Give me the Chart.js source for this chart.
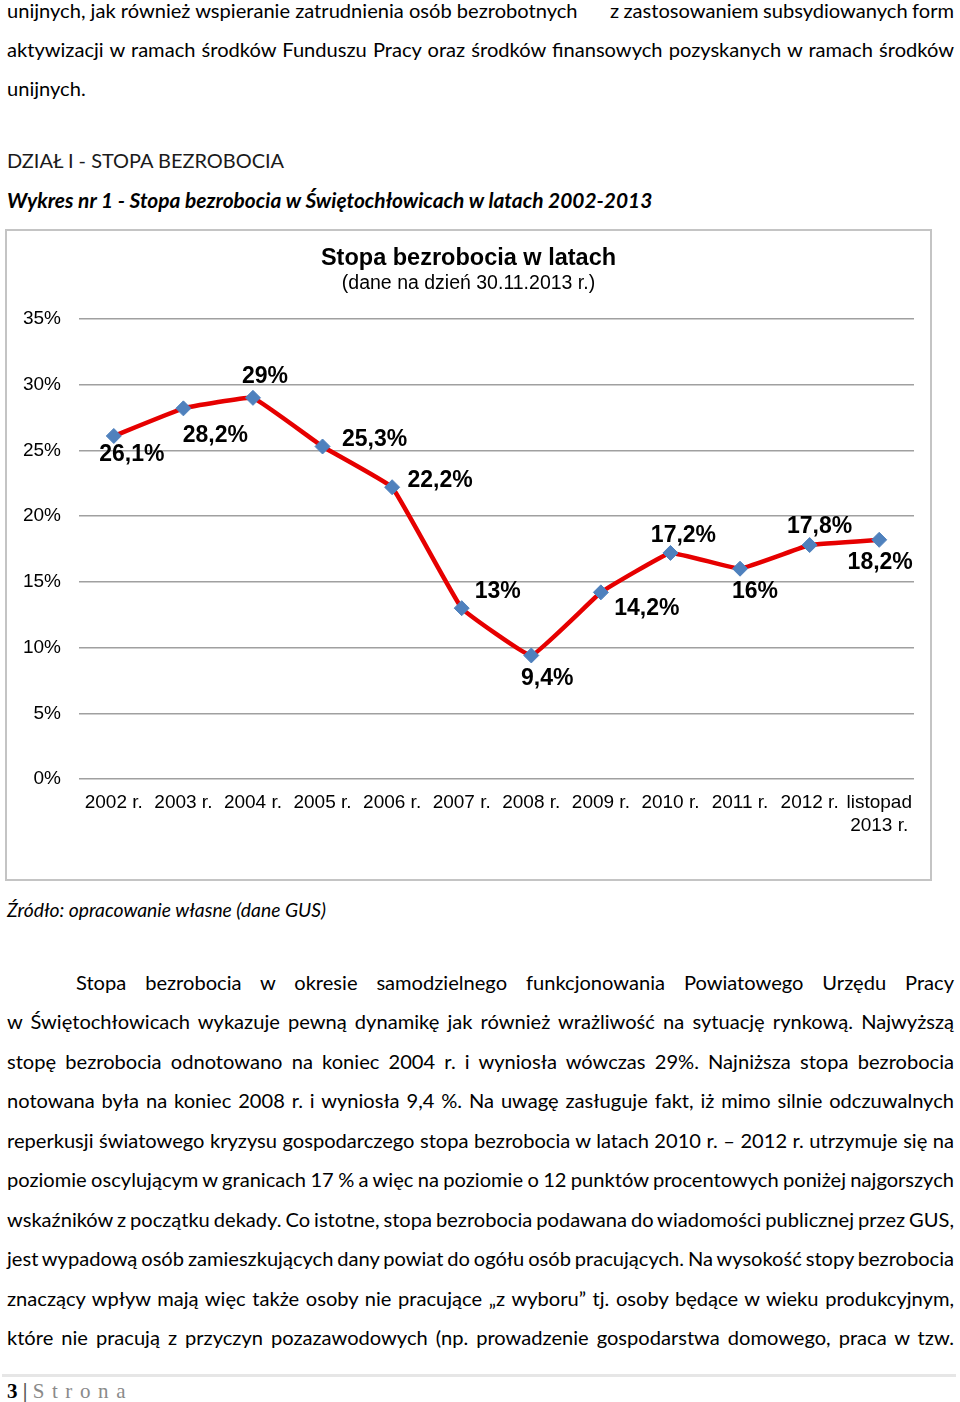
<!DOCTYPE html>
<html><head><meta charset="utf-8">
<script src="https://cdn.jsdelivr.net/npm/chart.js@4.4.1/dist/chart.umd.min.js"></script>
<style>
html,body{margin:0;padding:0;background:#fff;}
body{width:960px;height:1402px;position:relative;overflow:hidden;font-family:Lato,"Open Sans",sans-serif;color:#000;}
.t{position:absolute;white-space:nowrap;line-height:1;}
#frame{position:absolute;left:5px;top:229px;width:927px;height:652px;box-sizing:border-box;border:2px solid #c4c4c4;}
#c{position:absolute;left:7px;top:232px;}
#rule{position:absolute;left:2px;top:1374px;width:954px;height:3px;background:#e6e6e6;}
</style></head>
<body>
<div class="t" data-x="7" data-b="18" data-w="571" data-cal="1">unijnych, jak również wspieranie zatrudnienia osób bezrobotnych</div>
<div class="t" data-x="610" data-b="18" data-w="344" data-m="j">z zastosowaniem subsydiowanych form</div>
<div class="t" data-x="7" data-b="57" data-w="947" data-m="j">aktywizacji w ramach środków Funduszu Pracy oraz środków finansowych pozyskanych w ramach środków</div>
<div class="t" data-x="7" data-b="96">unijnych.</div>
<div class="t" data-x="7" data-b="169" data-w="277" data-m="fit" style="color:#1a1a1a">DZIAŁ I - STOPA BEZROBOCIA</div>
<div class="t" data-x="7" data-b="209" data-w="645" data-m="fit" style="font-weight:bold;font-style:italic">Wykres nr 1 - Stopa bezrobocia w Świętochłowicach w latach 2002-2013</div>
<div id="frame"></div>
<canvas id="c" width="923" height="647"></canvas>
<div class="t" data-x="7" data-b="917" data-w="319" data-m="fit" style="font-style:italic">Źródło: opracowanie własne (dane GUS)</div>
<div class="t" data-x="76" data-b="990" data-w="878" data-m="j">Stopa bezrobocia w okresie samodzielnego funkcjonowania Powiatowego Urzędu Pracy</div>
<div class="t" data-x="7" data-b="1029.5" data-w="947" data-m="j">w Świętochłowicach wykazuje pewną dynamikę jak również wrażliwość na sytuację rynkową. Najwyższą</div>
<div class="t" data-x="7" data-b="1069" data-w="947" data-m="j">stopę bezrobocia odnotowano na koniec 2004 r. i wyniosła wówczas 29%. Najniższa stopa bezrobocia</div>
<div class="t" data-x="7" data-b="1108.5" data-w="947" data-m="j">notowana była na koniec 2008 r. i wyniosła 9,4 %. Na uwagę zasługuje fakt, iż mimo silnie odczuwalnych</div>
<div class="t" data-x="7" data-b="1148" data-w="947" data-m="j">reperkusji światowego kryzysu gospodarczego stopa bezrobocia w latach 2010 r. – 2012 r. utrzymuje się na</div>
<div class="t" data-x="7" data-b="1187.5" data-w="947" data-m="j">poziomie oscylującym w granicach 17 % a więc na poziomie o 12 punktów procentowych poniżej najgorszych</div>
<div class="t" data-x="7" data-b="1227" data-w="947" data-m="j">wskaźników z początku dekady. Co istotne, stopa bezrobocia podawana do wiadomości publicznej przez GUS,</div>
<div class="t" data-x="7" data-b="1266.5" data-w="947" data-m="j">jest wypadową osób zamieszkujących dany powiat do ogółu osób pracujących. Na wysokość stopy bezrobocia</div>
<div class="t" data-x="7" data-b="1306" data-w="947" data-m="j">znaczący wpływ mają więc także osoby nie pracujące „z wyboru” tj. osoby będące w wieku produkcyjnym,</div>
<div class="t" data-x="7" data-b="1345.5" data-w="947" data-m="j">które nie pracują z przyczyn pozazawodowych (np. prowadzenie gospodarstwa domowego, praca w tzw.</div>
<div id="rule"></div>
<div class="t" data-x="7" data-b="1398" data-f="21" style="font-family:'Liberation Serif',serif"><span style="font-weight:bold">3</span><span style="font-weight:bold;color:#555"> | </span><span style="color:#8a8a8a;letter-spacing:7.6px">Strona</span></div>
<script>
// ---- data ----
const categories = ['2002 r.', '2003 r.', '2004 r.', '2005 r.', '2006 r.', '2007 r.', '2008 r.', '2009 r.', '2010 r.', '2011 r.', '2012 r.', ['listopad', '2013 r.']];
const unemploymentRate = [26.1, 28.2, 29, 25.3, 22.2, 13, 9.4, 14.2, 17.2, 16, 17.8, 18.2];
const yAxisMin = 0;
const yAxisMax = 35;
const yAxisStep = 5;
const chartTitle = 'Stopa bezrobocia w latach';
const chartSubtitle = '(dane na dzień 30.11.2013 r.)';
// label placement (pixel offsets from each point, styling only)
const labelDX = [18, 32, 12, 52, 48, 36, 16, 46, 13, 15, 10, 1];
const labelDY = [19, 27, -21, -7, -7, -16, 23, 16, -17, 23, -18, 23];

function layoutText(){
  const cv = document.createElement('canvas').getContext('2d');
  const els = [...document.querySelectorAll('.t')];
  const cal = document.querySelector('[data-cal]');
  const base = 20;
  cal.style.fontSize = base + 'px';
  const r = parseFloat(cal.dataset.w) / cal.getBoundingClientRect().width;
  const bodySize = base * r;
  els.forEach(el => {
    const mode = el.dataset.m;
    let f = el.dataset.f ? parseFloat(el.dataset.f) : bodySize;
    el.style.fontSize = f + 'px';
    const w = parseFloat(el.dataset.w);
    if (mode === 'fit') {
      const nat = el.getBoundingClientRect().width;
      f = f * w / nat; el.style.fontSize = f + 'px';
    } else if (mode === 'j') {
      const nat = el.getBoundingClientRect().width;
      const n = (el.textContent.match(/ /g) || []).length;
      if (n) el.style.wordSpacing = ((w - nat) / n) + 'px';
    }
    const st = getComputedStyle(el);
    cv.font = st.fontStyle + ' ' + st.fontWeight + ' ' + f + 'px ' + st.fontFamily;
    const m = cv.measureText('Hg');
    const asc = m.fontBoundingBoxAscent, desc = m.fontBoundingBoxDescent;
    const top = parseFloat(el.dataset.b) - ((f - (asc + desc)) / 2 + asc);
    el.style.top = top + 'px';
    el.style.left = el.dataset.x + 'px';
  });
}

const fmt = v => String(v).replace('.', ',') + '%';
const valueLabels = {
  id: 'valueLabels',
  afterDatasetsDraw(chart){
    const ctx = chart.ctx;
    const meta = chart.getDatasetMeta(0);
    ctx.save();
    ctx.font = 'bold 23px "Liberation Sans", Arial, sans-serif';
    ctx.fillStyle = '#000';
    ctx.textAlign = 'center';
    ctx.textBaseline = 'middle';
    meta.data.forEach((p, i) => {
      ctx.fillText(fmt(unemploymentRate[i]), p.x + labelDX[i], p.y + labelDY[i]);
    });
    ctx.restore();
  }
};

function makeChart(){
  Chart.defaults.font.family = '"Liberation Sans", Arial, sans-serif';
  Chart.defaults.color = '#000';
  new Chart(document.getElementById('c'), {
    type: 'line',
    data: {
      labels: categories,
      datasets: [{
        data: unemploymentRate,
        borderColor: '#e60000',
        borderWidth: 4.5,
        tension: 0.08,
        pointStyle: 'rectRot',
        pointRadius: 7.5,
        pointHoverRadius: 7.5,
        pointBackgroundColor: '#4f81bd',
        pointBorderColor: '#4f81bd',
        pointBorderWidth: 1
      }]
    },
    options: {
      responsive: false,
      animation: false,
      devicePixelRatio: 1,
      events: [],
      layout: { padding: { left: 16, right: 16, top: 0, bottom: 0 } },
      plugins: {
        legend: { display: false },
        tooltip: { enabled: false },
        title: { display: true, text: chartTitle, color: '#000',
          font: { size: 23.5, weight: 'bold', lineHeight: 1.2 }, padding: { top: 12, bottom: 0 } },
        subtitle: { display: true, text: chartSubtitle, color: '#000',
          font: { size: 19.5, lineHeight: 1.2 }, padding: { top: 0, bottom: 23.4 } }
      },
      scales: {
        x: {
          offset: true,
          grid: { display: false, drawTicks: false },
          border: { display: false },
          ticks: { font: { size: 19, lineHeight: 1.2 }, color: '#000', padding: 12.6, maxRotation: 0, minRotation: 0, autoSkip: false },
          afterFit: s => { s.height = 100; }
        },
        y: {
          min: yAxisMin, max: yAxisMax,
          ticks: { stepSize: yAxisStep, font: { size: 19 }, color: '#000', padding: 18, callback: v => v + '%' },
          grid: { color: '#a0a0a0', lineWidth: 1.5, drawTicks: false },
          border: { display: false },
          afterFit: s => { s.width = 56; }
        }
      }
    },
    plugins: [valueLabels]
  });
}

layoutText();
makeChart();
</script>
</body></html>
